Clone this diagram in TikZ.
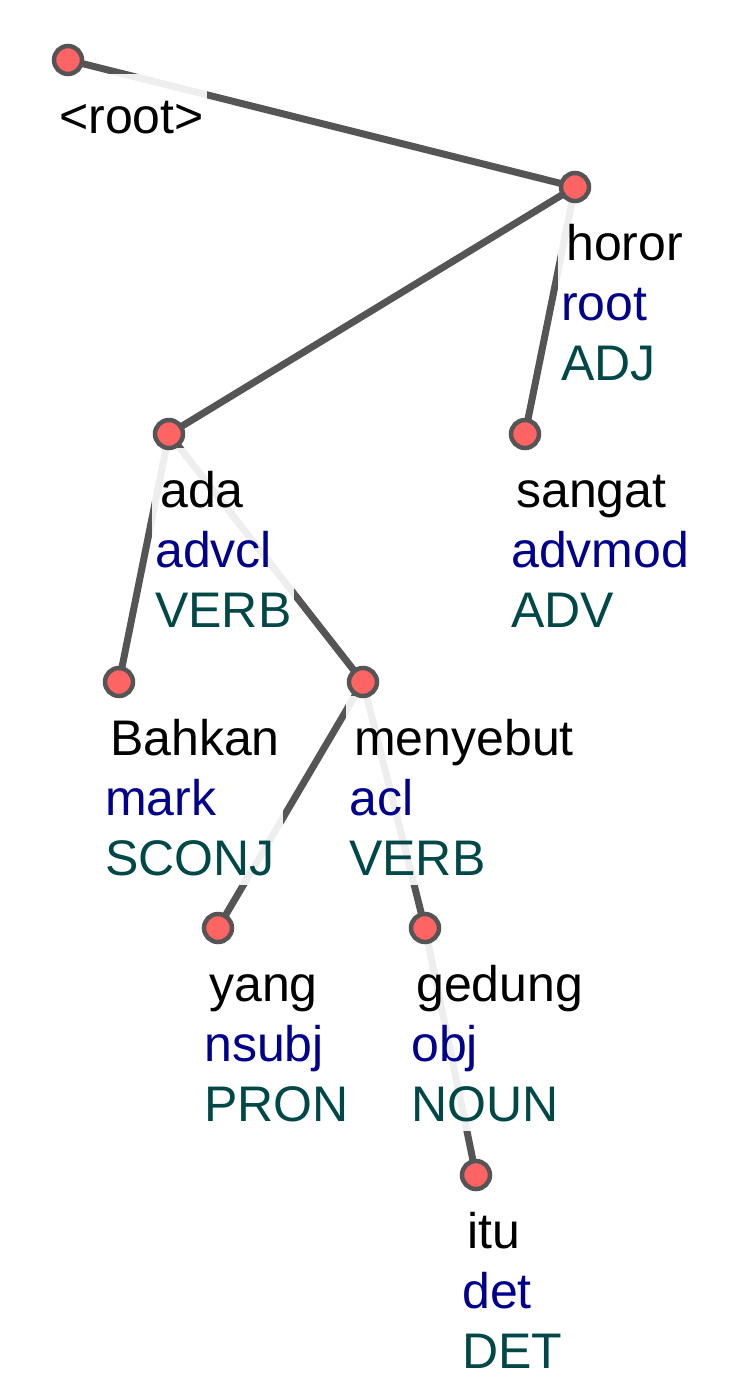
\documentclass[tikz,border=0pt]{standalone}
\usepackage{fontspec}
\setmainfont{Liberation Sans}
\usepackage{xcolor}
\usetikzlibrary{calc}
\definecolor{edgecolor}{HTML}{555555}
\definecolor{tokencolor}{HTML}{FF6464}
\definecolor{deprelcolor}{rgb}{0,0,0.55}
\definecolor{poscolor}{HTML}{004848}
\pgfdeclarelayer{edges}
\pgfdeclarelayer{boxes}
\pgfsetlayers{edges,boxes,main}
\newcommand{\udlabel}[3]{\rule{0pt}{59pt}\hspace*{5pt}#1\\\textcolor{deprelcolor}{#2}\\\textcolor{poscolor}{#3}\rule[-10pt]{0pt}{10pt}}

\begin{document}
\begin{tikzpicture}[x=1pt, y=-1pt,
    token/.style={circle, draw=edgecolor, line width=4.5pt, fill=tokencolor, minimum size=28pt, inner sep=0pt},
    edge/.style={draw=edgecolor, line width=7pt},
    tokenlabel/.style={anchor=north west, fill=white, fill opacity=0.9, text opacity=1,
      inner xsep=3pt, inner ysep=0pt, align=left, font=\fontsize{50}{60}\selectfont}]
  \useasboundingbox (0, 0) rectangle (748, 1383);

  % Tokens
  \node[token] (root) at (68, 60) {};
  \node[token] (horor) at (575, 187) {};
  \node[token] (ada) at (169, 434) {};
  \node[token] (sangat) at (525, 434) {};
  \node[token] (bahkan) at (119, 682) {};
  \node[token] (menyebut) at (363, 682) {};
  \node[token] (yang) at (218, 928) {};
  \node[token] (gedung) at (425, 928) {};
  \node[token] (itu) at (476, 1175) {};

  % Labels, with a light box behind them
  \begin{pgfonlayer}{boxes}
    \node[tokenlabel] (root-lbl) at (51, 74) {\rule{0pt}{59pt}\hspace*{5pt}<root>\rule[-10pt]{0pt}{10pt}};
    \node[tokenlabel] (horor-lbl) at (558, 201) {\udlabel{horor}{root}{ADJ}};
    \node[tokenlabel] (ada-lbl) at (152, 448) {\udlabel{ada}{advcl}{VERB}};
    \node[tokenlabel] (sangat-lbl) at (508, 448) {\udlabel{sangat}{advmod}{ADV}};
    \node[tokenlabel] (bahkan-lbl) at (102, 696) {\udlabel{Bahkan}{mark}{SCONJ}};
    \node[tokenlabel] (menyebut-lbl) at (346, 696) {\udlabel{menyebut}{acl}{VERB}};
    \node[tokenlabel] (yang-lbl) at (201, 942) {\udlabel{yang}{nsubj}{PRON}};
    \node[tokenlabel] (gedung-lbl) at (408, 942) {\udlabel{gedung}{obj}{NOUN}};
    \node[tokenlabel] (itu-lbl) at (459, 1189) {\udlabel{itu}{det}{DET}};
  \end{pgfonlayer}

  % Dependency arcs
  \begin{pgfonlayer}{edges}
    \draw[edge] (root.center) -- (horor.center);
    \draw[edge] (horor.center) -- (ada.center);
    \draw[edge] (horor.center) -- (sangat.center);
    \draw[edge] (ada.center) -- (bahkan.center);
    \draw[edge] (ada.center) -- (menyebut.center);
    \draw[edge] (menyebut.center) -- (yang.center);
    \draw[edge] (menyebut.center) -- (gedung.center);
    \draw[edge] (gedung.center) -- (itu.center);
  \end{pgfonlayer}
\end{tikzpicture}
\end{document}
